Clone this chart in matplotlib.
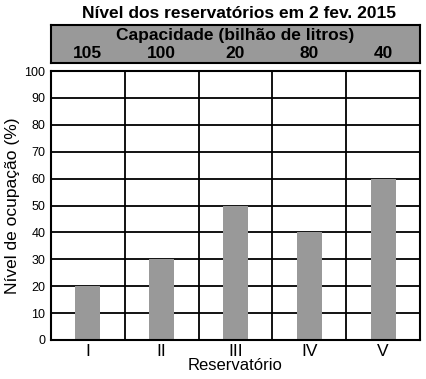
import numpy as np
import matplotlib.pyplot as plt

plt.rcParams['font.family'] = ['Liberation Sans', 'DejaVu Sans']

reservatorios = ['I', 'II', 'III', 'IV', 'V']
capacidade = [105, 100, 20, 80, 40]
nivel = [20, 30, 50, 40, 60]
y_ticks = list(range(0, 101, 10))

fig = plt.figure(figsize=(4.27, 3.79), dpi=100)

# area principal
ax = fig.add_axes([51 / 427, 39 / 379, 369 / 427, 269 / 379])
x = np.arange(len(reservatorios))
ax.set_xlim(-0.5, len(reservatorios) - 0.5)
ax.set_ylim(0, 100)
for yt in y_ticks[1:]:
    ax.axhline(yt, color='black', lw=1.3, zorder=1)
for xb in x[:-1] + 0.5:
    ax.axvline(xb, color='black', lw=1.3, zorder=1)
ax.bar(x, nivel, width=0.34, color='#999999', zorder=2)
for s in ax.spines.values():
    s.set_linewidth(1.5)
ax.set_yticks(y_ticks)
ax.set_yticklabels([str(v) for v in y_ticks], fontsize=9)
ax.set_xticks(x)
ax.set_xticklabels(reservatorios, fontsize=12.5)
ax.tick_params(length=0, pad=4)
ax.tick_params(axis='x', pad=3)
ax.set_xlabel('Reservatório', fontsize=12, labelpad=-1)
ax.set_ylabel('Nível de ocupação (%)', fontsize=12.5, labelpad=3)

# cabeçalho
hx = fig.add_axes([51 / 427, 316 / 379, 369 / 427, 38 / 379])
hx.set_xlim(-0.5, len(reservatorios) - 0.5)
hx.set_ylim(0, 1)
hx.set_facecolor('#999999')
hx.set_xticks([])
hx.set_yticks([])
for s in hx.spines.values():
    s.set_linewidth(1.5)
hx.text(2, 0.72, 'Capacidade (bilhão de litros)', ha='center', va='center',
        fontsize=12.5, fontweight='bold')
for xi, c in zip(x, capacidade):
    hx.text(xi, 0.24, str(c), ha='center', va='center', fontsize=12.5, fontweight='bold')

fig.text(239 / 427, 1 - 13 / 379, 'Nível dos reservatórios em 2 fev. 2015',
         ha='center', va='center', fontsize=12.5, fontweight='bold')

fig.savefig('out.png', dpi=100)
